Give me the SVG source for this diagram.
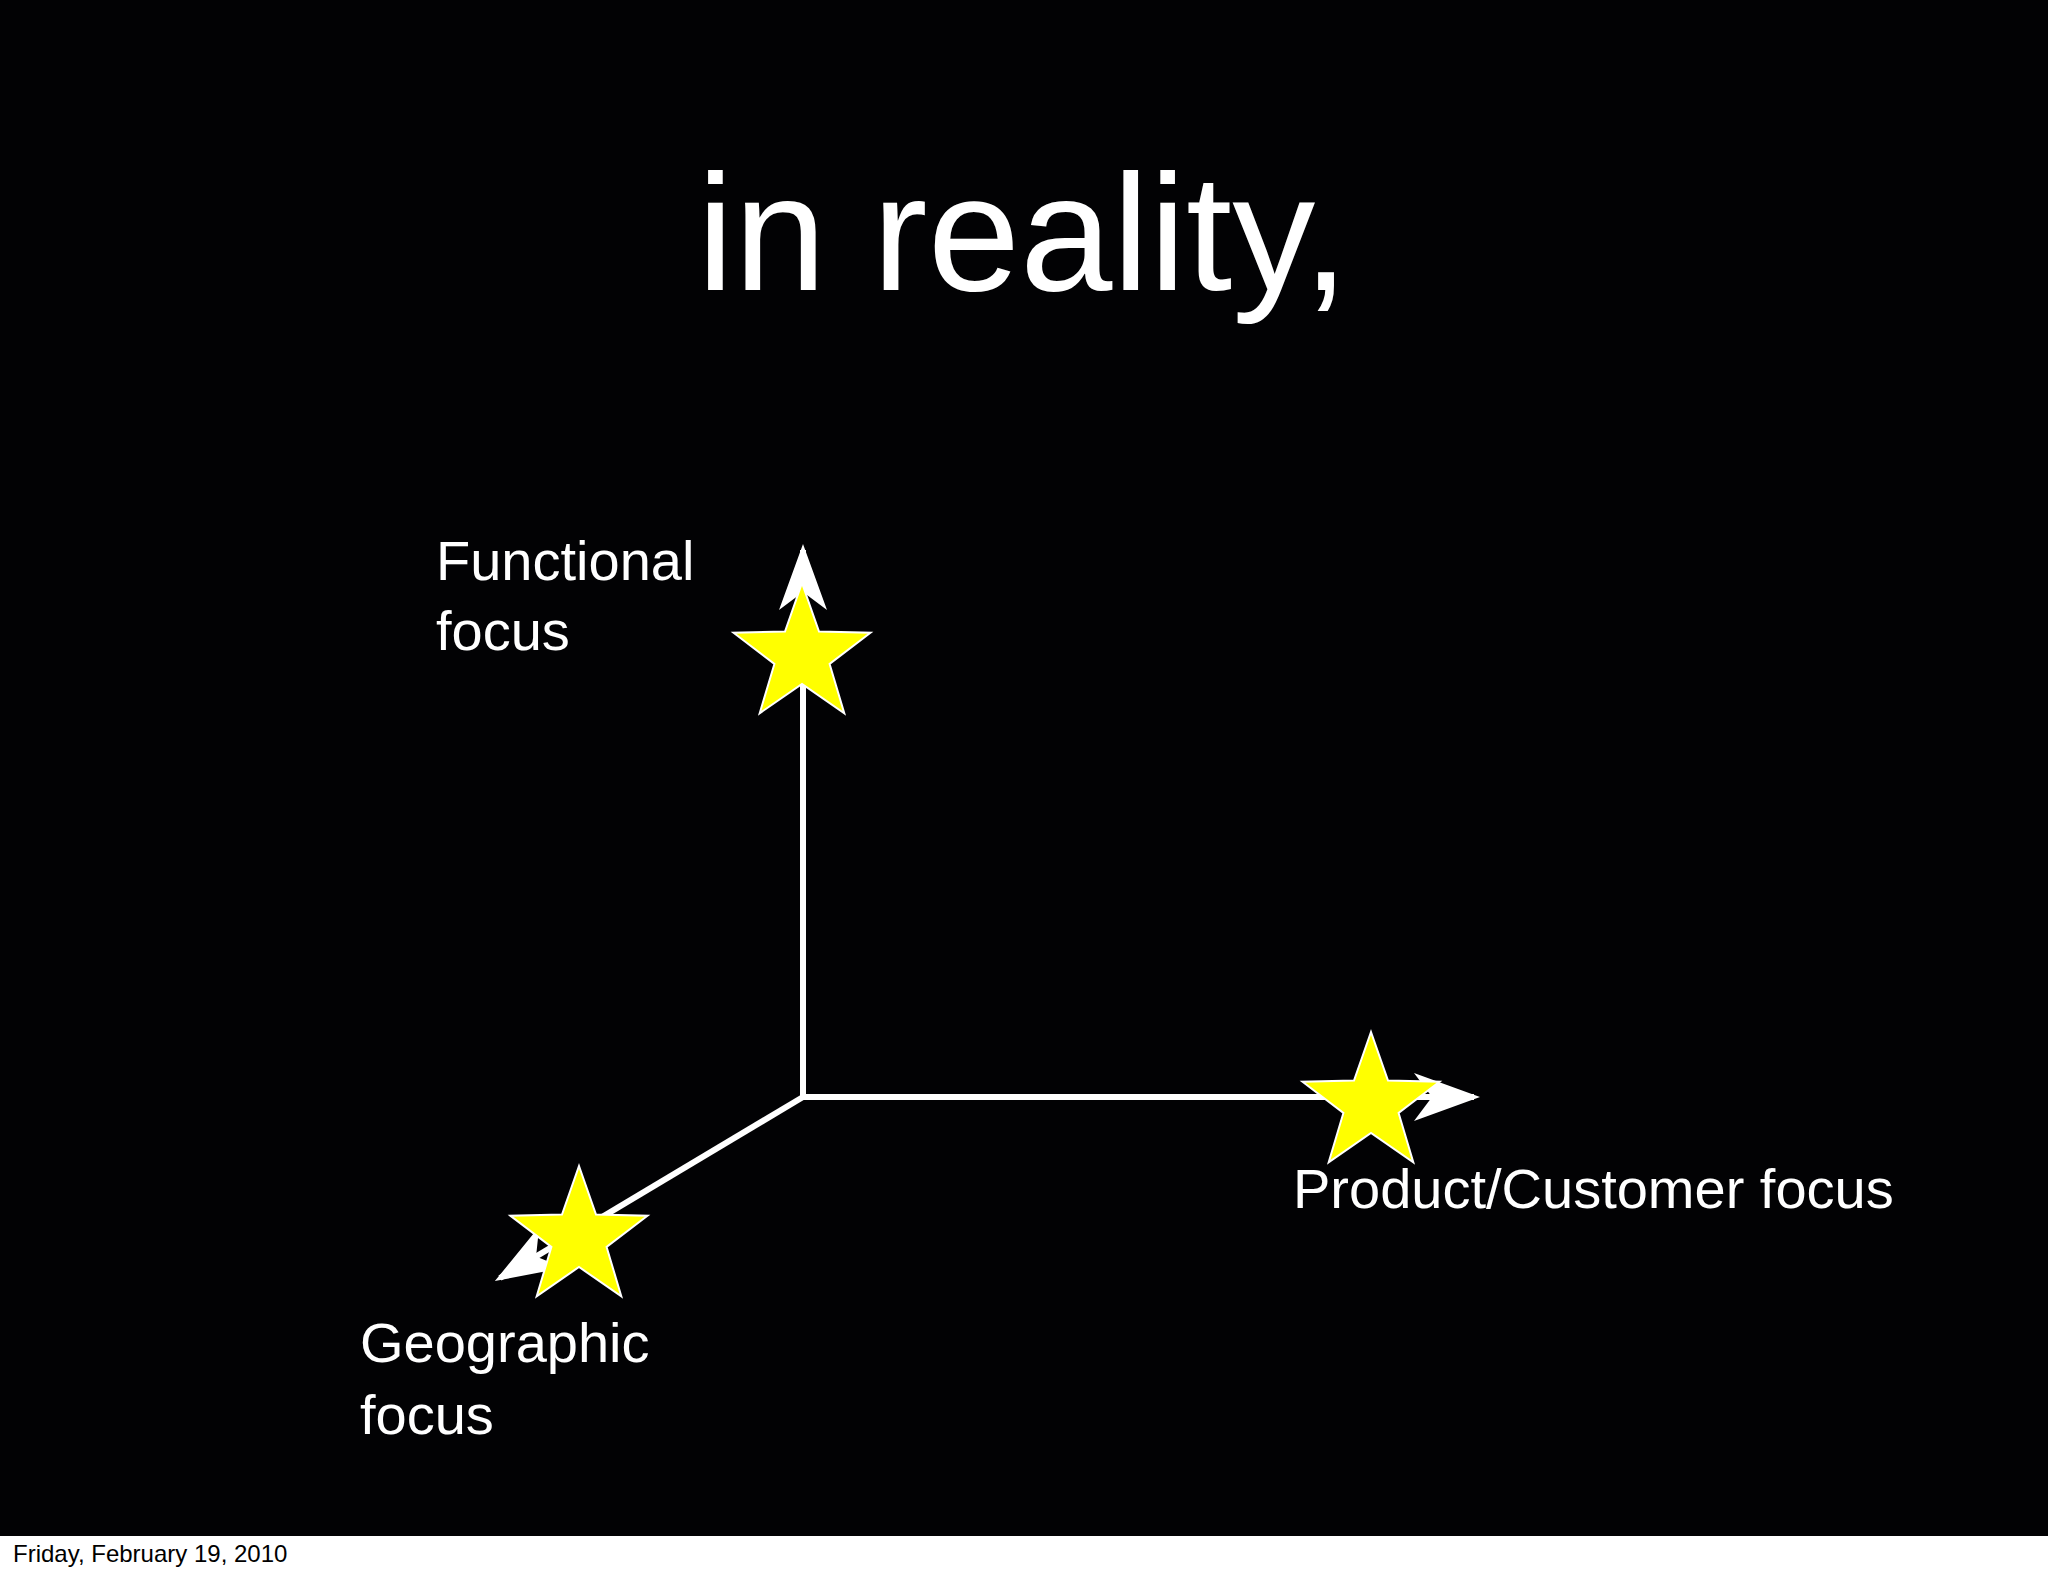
<svg xmlns="http://www.w3.org/2000/svg" xmlns:xlink="http://www.w3.org/1999/xlink" width="2048" height="1576" viewBox="0 0 2048 1576">
<style>
.t{font-family:"Liberation Sans",Arial,sans-serif;fill:#fff}
.lbl{font-size:56px}
.ax{stroke:#fff;stroke-width:6;fill:none}
</style>
<defs>
<marker id="ah" markerWidth="12" markerHeight="8" refX="10" refY="4" orient="auto" markerUnits="strokeWidth">
<path d="M0,0 L11,4 L0,8 L3,4 Z" fill="#fff"/>
</marker>
<polygon id="star" points="0,-72 17,-23.5 68.5,-22.2 27.6,9 42.3,58.2 0,29 -42.3,58.2 -27.6,9 -68.5,-22.2 -17,-23.5" fill="#ffff00" stroke="#fff" stroke-width="2"/>
</defs>
<rect width="2048" height="1576" fill="#fff"/>
<rect width="2048" height="1536" fill="#020204"/>
<text class="t" x="1023" y="290" font-size="166" text-anchor="middle">in reality,</text>
<g id="connectors">
<path class="ax" d="M803,1097 L803,550" marker-end="url(#ah)"/>
<path class="ax" d="M803,1097 L1474,1097" marker-end="url(#ah)"/>
<path class="ax" d="M803,1097 L500,1278" marker-end="url(#ah)"/>
</g>
<g id="star-functional"><use xlink:href="#star" transform="translate(802,655)"/></g>
<g id="star-product"><use xlink:href="#star" transform="translate(1371,1104)"/></g>
<g id="star-geographic"><use xlink:href="#star" transform="translate(579,1238)"/></g>
<g id="label-functional"><text class="t lbl" x="436" y="580">Functional</text><text class="t lbl" x="436" y="650">focus</text></g>
<g id="label-product"><text class="t lbl" x="1293" y="1208">Product/Customer focus</text></g>
<g id="label-geographic"><text class="t lbl" x="360" y="1362">Geographic</text><text class="t lbl" x="360" y="1434">focus</text></g>
<text x="13" y="1562" font-family="Liberation Sans,Arial,sans-serif" font-size="24" fill="#000">Friday, February 19, 2010</text>
</svg>
